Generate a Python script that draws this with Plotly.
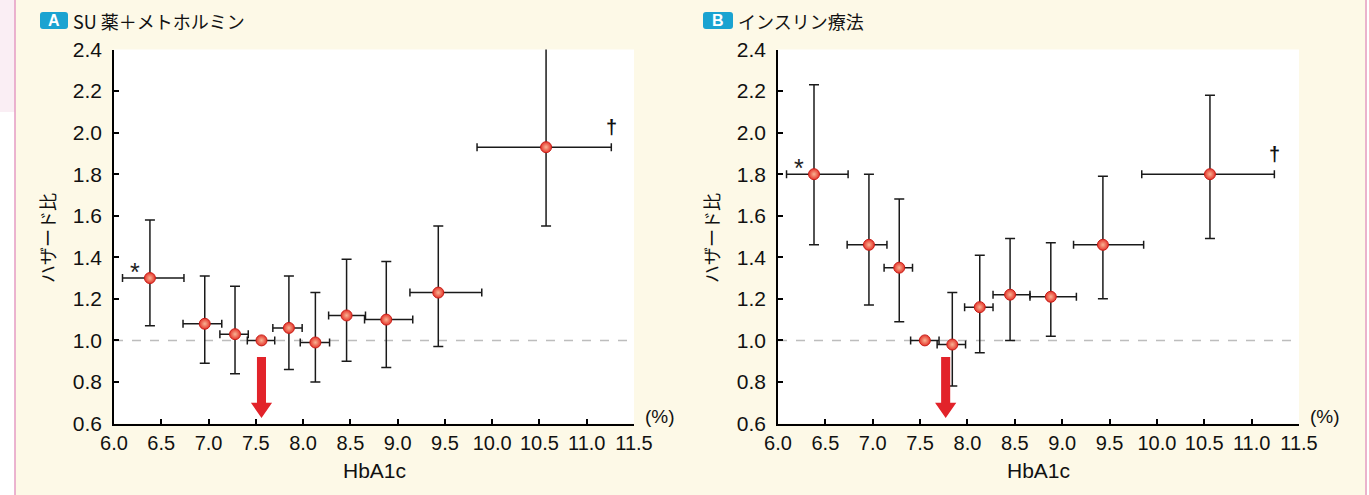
import plotly.graph_objects as go

W, H = 1369, 495

# ---------------- data ----------------
panel_titles = ["SU 薬＋メトホルミン", "インスリン療法"]
panel_badges = ["A", "B"]

# Panel A
a_x = [6.38, 6.96, 7.28, 7.56, 7.85, 8.13, 8.46, 8.88, 9.43, 10.57]
a_x_lo = [6.09, 6.73, 7.12, 7.41, 7.68, 7.97, 8.27, 8.65, 9.13, 9.84]
a_x_hi = [6.74, 7.14, 7.42, 7.70, 7.99, 8.28, 8.66, 9.16, 9.89, 11.26]
a_y = [1.30, 1.08, 1.03, 1.00, 1.06, 0.99, 1.12, 1.10, 1.23, 1.93]
a_y_lo = [1.07, 0.89, 0.84, 1.00, 0.86, 0.80, 0.90, 0.87, 0.97, 1.55]
a_y_hi = [1.58, 1.31, 1.26, 1.00, 1.31, 1.23, 1.39, 1.38, 1.55, 2.42]

# Panel B
b_x = [6.38, 6.96, 7.28, 7.55, 7.84, 8.13, 8.45, 8.88, 9.43, 10.56]
b_x_lo = [6.09, 6.73, 7.12, 7.40, 7.68, 7.97, 8.27, 8.66, 9.12, 9.84]
b_x_hi = [6.74, 7.15, 7.42, 7.70, 7.98, 8.27, 8.66, 9.15, 9.86, 11.24]
b_y = [1.80, 1.46, 1.35, 1.00, 0.98, 1.16, 1.22, 1.21, 1.46, 1.80]
b_y_lo = [1.46, 1.17, 1.09, 1.00, 0.78, 0.94, 1.00, 1.02, 1.20, 1.49]
b_y_hi = [2.23, 1.80, 1.68, 1.00, 1.23, 1.41, 1.49, 1.47, 1.79, 2.18]

arrow_x = [7.56, 7.77]          # optimal HbA1c arrows
ref_line = 1.0
x_ticks = [6.0, 6.5, 7.0, 7.5, 8.0, 8.5, 9.0, 9.5, 10.0, 10.5, 11.0, 11.5]
y_ticks = [0.6, 0.8, 1.0, 1.2, 1.4, 1.6, 1.8, 2.0, 2.2, 2.4]
x_title = "HbA1c"
y_title = "ハザード比"
unit_label = "(%)"

# ---------------- layout geometry ----------------
def px_x(p):
    return p / W

def px_y(p):
    return 1 - p / H

x_domains = [[px_x(114), px_x(634)], [px_x(778), px_x(1299)]]
y_domain = [px_y(423.5), px_y(49.5)]
y_range = [y_ticks[0], y_ticks[-1]]
x_range = [x_ticks[0], x_ticks[-1]]

NUM_FONT = "Liberation Sans, Arial, sans-serif"
JP_FONT = "Noto Sans CJK JP, sans-serif"
CREAM = "#FDF9E7"
RED = "#E2232A"
BAR = "#1A1A1A"

fig = go.Figure()

panels = [
    (a_x, a_x_lo, a_x_hi, a_y, a_y_lo, a_y_hi),
    (b_x, b_x_lo, b_x_hi, b_y, b_y_lo, b_y_hi),
]

shapes = []
annotations = []

# background decorations
shapes.append(dict(type="rect", xref="paper", yref="paper", x0=0, x1=px_x(15), y0=px_y(112), y1=1,
                   fillcolor="#FAEEF4", line=dict(width=0), layer="below"))
shapes.append(dict(type="rect", xref="paper", yref="paper", x0=0, x1=px_x(15), y0=0, y1=px_y(112),
                   fillcolor="#FFFFFF", line=dict(width=0), layer="below"))
shapes.append(dict(type="rect", xref="paper", yref="paper", x0=px_x(1367), x1=1, y0=0, y1=1,
                   fillcolor="#FFFFFF", line=dict(width=0), layer="below"))
for lx in [15, 1366]:
    shapes.append(dict(type="line", xref="paper", yref="paper", x0=px_x(lx), x1=px_x(lx), y0=0, y1=1,
                       line=dict(color="#E49BC3", width=1.5), layer="below"))

for i, (xs, xlo, xhi, ys, ylo, yhi) in enumerate(panels):
    xa = "x" if i == 0 else "x2"
    ya = "y" if i == 0 else "y2"
    fig.add_trace(go.Scatter(
        x=xs, y=ys, mode="markers", xaxis=xa, yaxis=ya, cliponaxis=False,
        marker=dict(size=11, color="#E6352B", line=dict(color="#C71E18", width=1),
                    gradient=dict(type="radial", color="#F8B494")),
        error_x=dict(type="data", symmetric=False,
                     array=[h - x for h, x in zip(xhi, xs)],
                     arrayminus=[x - l for l, x in zip(xlo, xs)],
                     color=BAR, thickness=1.5, width=4),
        error_y=dict(type="data", symmetric=False,
                     array=[h - y for h, y in zip(yhi, ys)],
                     arrayminus=[y - l for l, y in zip(ylo, ys)],
                     color=BAR, thickness=1.5, width=5),
        showlegend=False, hoverinfo="skip",
    ))

    # error bars that poke above the axis top: draw the unclipped cap and stub as markers
    over = [(x, h) for x, h in zip(xs, yhi) if h > y_range[1]]
    if over:
        fig.add_trace(go.Scatter(
            x=[o[0] for o in over], y=[o[1] for o in over], mode="markers", xaxis=xa, yaxis=ya,
            cliponaxis=False, showlegend=False, hoverinfo="skip",
            marker=dict(symbol="line-ew", size=10, line=dict(color=BAR, width=1.5)),
        ))
        fig.add_trace(go.Scatter(
            x=[o[0] for o in over], y=[(o[1] + y_range[1]) / 2 for o in over], mode="markers",
            xaxis=xa, yaxis=ya, cliponaxis=False, showlegend=False, hoverinfo="skip",
            marker=dict(symbol="line-ns", size=5, line=dict(color=BAR, width=1.5)),
        ))

    # reference dashed line
    shapes.append(dict(type="line", xref=xa, yref=ya, x0=x_range[0], x1=x_range[1], y0=ref_line, y1=ref_line,
                       line=dict(color="#BDBDBD", width=1.5, dash="dash"), layer="below"))

    # red arrow (shaft + head), in data coordinates
    ax = arrow_x[i]
    sw, hw = 0.048, 0.112
    shaft_top, head_base, tip = 0.92, 0.70, 0.627
    path = (f"M {ax - sw},{shaft_top} L {ax + sw},{shaft_top} L {ax + sw},{head_base} "
            f"L {ax + hw},{head_base} L {ax},{tip} L {ax - hw},{head_base} "
            f"L {ax - sw},{head_base} Z")
    shapes.append(dict(type="path", xref=xa, yref=ya, path=path, fillcolor=RED,
                       line=dict(width=0), layer="above"))

    # asterisk and dagger
    annotations.append(dict(xref=xa, yref=ya, x=xlo[0] + 0.13, y=ys[0], text="*", showarrow=False,
                            yshift=6, font=dict(family=NUM_FONT, size=25, color="#222"),
                            xanchor="center", yanchor="middle"))
    annotations.append(dict(xref=xa, yref=ya, x=xhi[-1], y=ys[-1], text="<b>†</b>", showarrow=False,
                            yshift=20, font=dict(family=NUM_FONT, size=20, color="#111"),
                            xanchor="center", yanchor="middle"))

    # unit label "(%)"
    annotations.append(dict(xref="paper", yref="paper", x=x_domains[i][1] + px_x(9), y=px_y(416),
                            text=unit_label, showarrow=False, xanchor="left", yanchor="middle",
                            font=dict(family=NUM_FONT, size=19, color="#111")))
    # x title
    xc = (x_domains[i][0] + x_domains[i][1]) / 2
    annotations.append(dict(xref="paper", yref="paper", x=xc, y=px_y(470), text=x_title, showarrow=False,
                            xanchor="center", yanchor="middle",
                            font=dict(family=NUM_FONT, size=21, color="#111")))
    # y title
    annotations.append(dict(xref="paper", yref="paper", x=x_domains[i][0] - px_x(67), y=px_y(238),
                            text=y_title, showarrow=False, textangle=-90, xanchor="center",
                            yanchor="middle", font=dict(family=JP_FONT, size=18, color="#111")))

    # badge + panel title
    bx0 = [40, 703][i]
    bx1 = [68, 733][i]
    by0, by1 = 12, 29
    r = 3
    x0p, x1p = px_x(bx0), px_x(bx1)
    y0p, y1p = px_y(by1), px_y(by0)
    rx, ry = px_x(r), r / H
    rr = (f"M {x0p + rx},{y0p} L {x1p - rx},{y0p} Q {x1p},{y0p} {x1p},{y0p + ry} "
          f"L {x1p},{y1p - ry} Q {x1p},{y1p} {x1p - rx},{y1p} L {x0p + rx},{y1p} "
          f"Q {x0p},{y1p} {x0p},{y1p - ry} L {x0p},{y0p + ry} Q {x0p},{y0p} {x0p + rx},{y0p} Z")
    shapes.append(dict(type="path", xref="paper", yref="paper", path=rr, fillcolor="#1AA3D1",
                       line=dict(width=0), layer="above"))
    annotations.append(dict(xref="paper", yref="paper", x=(x0p + x1p) / 2, y=px_y(20.5),
                            text=f"<b>{panel_badges[i]}</b>", showarrow=False, xanchor="center",
                            yanchor="middle", font=dict(family=NUM_FONT, size=16, color="white")))
    annotations.append(dict(xref="paper", yref="paper", x=px_x(bx1 + 3), y=px_y(20.5),
                            text=panel_titles[i], showarrow=False, xanchor="left", yanchor="middle",
                            font=dict(family=JP_FONT, size=18, color="#111")))

axis_common = dict(
    showline=True, linecolor="black", linewidth=1.6, ticks="inside", ticklen=5, tickwidth=1.5,
    tickcolor="black", showgrid=False, zeroline=False, mirror=False, automargin=False,
)
xfont = dict(family=NUM_FONT, size=20, color="#111")
yfont = dict(family=NUM_FONT, size=21, color="#111")

fig.update_layout(
    width=W, height=H,
    margin=dict(l=0, r=0, t=0, b=0, pad=0, autoexpand=False),
    paper_bgcolor=CREAM, plot_bgcolor="white",
    xaxis=dict(domain=x_domains[0], anchor="y", range=x_range, tickvals=x_ticks,
               ticktext=[f"{v:.1f}" for v in x_ticks], tickfont=xfont, ticklabelstandoff=1,
               **axis_common),
    yaxis=dict(domain=y_domain, anchor="x", range=y_range, tickvals=y_ticks,
               ticktext=[f"{v:.1f}" for v in y_ticks], tickfont=yfont, ticklabelstandoff=6,
               **axis_common),
    xaxis2=dict(domain=x_domains[1], anchor="y2", range=x_range, tickvals=x_ticks,
                ticktext=[f"{v:.1f}" for v in x_ticks], tickfont=xfont, ticklabelstandoff=1,
                **axis_common),
    yaxis2=dict(domain=y_domain, anchor="x2", range=y_range, tickvals=y_ticks,
                ticktext=[f"{v:.1f}" for v in y_ticks], tickfont=yfont, ticklabelstandoff=6,
                **axis_common),
    shapes=shapes,
    annotations=annotations,
)

fig.write_html(
    "out.html",
    config={"displayModeBar": False},
    post_script="document.body.style.margin='0px';document.documentElement.style.overflow='hidden';",
)
